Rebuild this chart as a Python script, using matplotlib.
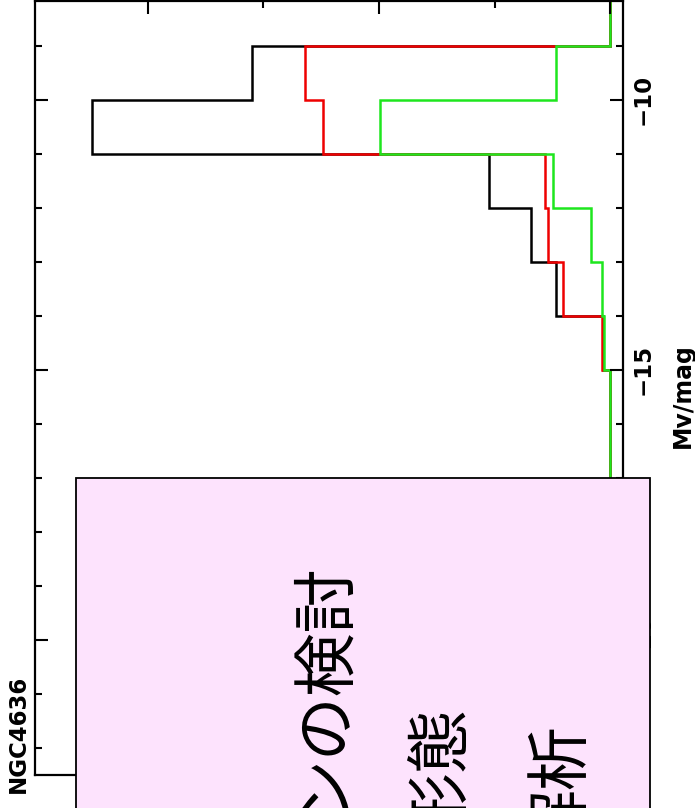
import numpy as np
import matplotlib
matplotlib.use("Agg")
import matplotlib.pyplot as plt
from matplotlib.patches import Rectangle
from matplotlib.ticker import FixedLocator, MultipleLocator

# ---- data -------------------------------------------------------------
mag_edges = np.arange(-23.0, -6.0, 1.0)          # 1-mag bins, bright -> faint
black_counts = np.array([0, 0, 0, 0, 0, 0, 0, 0, 3.0, 23.4, 34.2, 52.4, 224.2, 155.0, 0, 0])
red_counts   = np.array([0, 0, 0, 0, 0, 0, 0, 0, 3.5, 20.3, 26.8, 28.1, 124.2, 132.0, 0, 0])
green_counts = np.array([0, 0, 0, 0, 0, 0, 0, 0, 2.6, 3.5, 8.2, 24.7, 99.6, 23.4, 0, 0])

mag_major = [-20, -15, -10]
mag_major_labels = ["\u221220", "\u221215", "\u221210"]
count_major = [0, 100, 200]
count_minor = [50, 150]

galaxy_name = "NGC4636"
mag_axis_label = "Mv/mag"
note_columns = ["ンの検討", "形態", "解析"]

# ---- figure -----------------------------------------------------------
W, H, DPI = 695, 808, 100
fig = plt.figure(figsize=(W / DPI, H / DPI), dpi=DPI)
fig.patch.set_facecolor("white")


def fx(px):
    return px / W


def fy(py):
    return 1.0 - py / H


latin = ["DejaVu Sans"]
cjk = ["Noto Sans CJK JP", "DejaVu Sans"]

# the histogram panel is shown turned on its side: magnitude runs upward,
# counts grow to the left
ax = fig.add_axes([fx(35), fy(775), (623 - 35) / W, (775 - 1) / H])

for counts, colour in [(black_counts, "black"),
                       (red_counts, "#ee0000"),
                       (green_counts, "#1ee61e")]:
    ax.stairs(counts, mag_edges, orientation="horizontal", baseline=None,
              color=colour, lw=1.8)

ax.set_xlim(248.9, -5.6)
ax.set_ylim(-22.5, -8.17)

ax.yaxis.set_major_locator(FixedLocator(mag_major))
ax.yaxis.set_minor_locator(MultipleLocator(1))
ax.set_yticklabels(mag_major_labels)
ax.xaxis.set_major_locator(FixedLocator(count_major))
ax.xaxis.set_minor_locator(FixedLocator(count_minor))

ax.tick_params(axis="both", which="both", direction="in",
               top=True, bottom=True, left=True, right=True,
               labelbottom=False, labeltop=False,
               labelleft=False, labelright=True, color="black")
ax.tick_params(which="major", length=9.5, width=1.5)
ax.tick_params(which="minor", length=5.0, width=1.5)
ax.tick_params(axis="y", which="major", pad=6.0)
for sp in ax.spines.values():
    sp.set_linewidth(1.6)

for lbl in ax.get_yticklabels():
    lbl.set_rotation(90)
    lbl.set_horizontalalignment("left")
    lbl.set_verticalalignment("center")
    lbl.set_fontsize(16.5)
    lbl.set_fontweight("bold")
    lbl.set_family(latin)

fig.text(fx(690), fy(396), mag_axis_label, rotation=90, rotation_mode="anchor",
         ha="center", va="baseline", fontsize=17, fontweight="bold", family=latin)
fig.text(fx(25), fy(793), galaxy_name, rotation=90, rotation_mode="anchor",
         ha="left", va="baseline", fontsize=16.5, fontweight="bold", family=latin)

# ---- pink note panel laid over the lower part ---------------------------
panel = Rectangle((fx(76), -0.05), fx(650) - fx(76), fy(478) + 0.05,
                  transform=fig.transFigure, facecolor="#fde3fd",
                  edgecolor="black", linewidth=1.3, zorder=3)
fig.add_artist(panel)

for text, cx, top in zip(note_columns, [321, 441, 561], [558, 706, 723]):
    fig.text(fx(cx), fy(top), text, rotation=90, rotation_mode="anchor",
             ha="right", va="center", fontsize=46, family=cjk, zorder=4)

fig.savefig("out.png", dpi=DPI)
